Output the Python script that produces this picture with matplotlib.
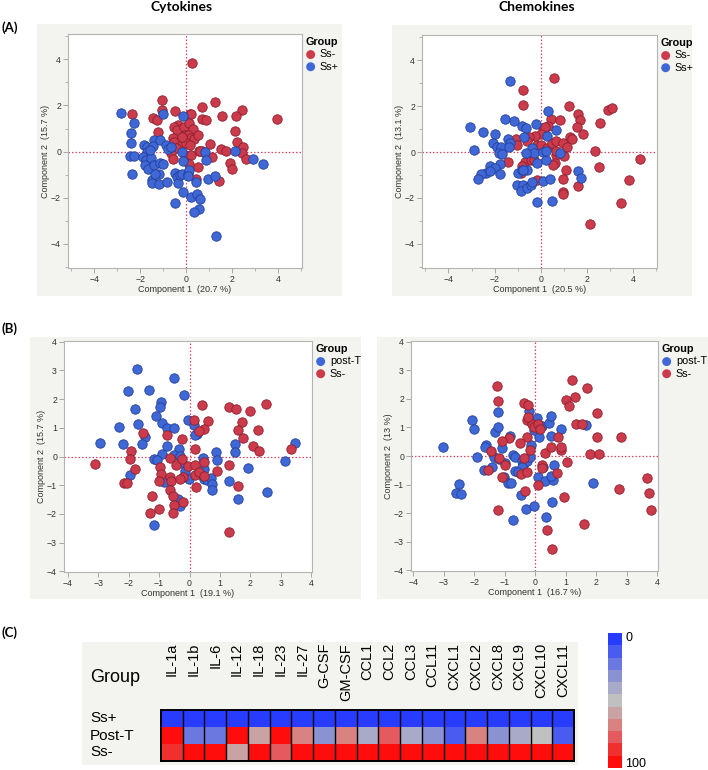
import numpy as np
import matplotlib
matplotlib.use("Agg")
import matplotlib.pyplot as plt
from matplotlib.patches import Rectangle
from matplotlib.colors import ListedColormap, Normalize
from matplotlib.ticker import MultipleLocator
from matplotlib.transforms import blended_transform_factory

plt.rcParams['font.family'] = ['Liberation Sans', 'DejaVu Sans']

# ---------------- DATA ----------------
# Panel A - Cytokines
cyto_ssneg_x = [0.26, -2.38, -1.06, -1.06, -1.43, -1.26, -1.23, -0.48, 0.16, 0.23, 0.70, 1.25, 1.55, 2.43, 2.17, 2.13, 3.96, 0.68, 0.88, -0.36, -0.51, -0.41, -0.10, 0.13, 0.32, -0.04, 0.10, 0.19, 0.35, 0.51, -0.59, -0.54, -0.17, 0.01, -0.43, -0.64, -0.59, -0.06, 0.22, 0.55, 0.68, 1.03, 1.12, 1.51, 1.75, 2.23, 2.49, 2.42, 2.62, 1.91, 2.00, 1.43, 0.45, 0.51, 0.13, 0.59, 0.16, -0.20]
cyto_ssneg_y = [3.85, 1.62, 2.23, 1.82, 1.46, 1.38, 0.84, 1.74, 1.61, 1.61, 1.92, 2.17, 1.56, 1.79, 1.55, 0.91, 1.40, 1.42, 1.35, 1.17, 1.06, 0.92, 1.06, 1.26, 0.99, 0.71, 0.70, 0.60, 0.55, 0.73, 0.60, 0.41, 0.31, 0.37, 0.14, -0.08, -0.31, -0.17, -0.17, 0.02, 0.01, 0.34, -0.24, 0.11, 0.02, 0.41, 0.22, -0.08, -0.31, -0.48, -0.74, -1.29, -1.17, -0.67, -0.53, 0.02, 0.27, 0.63]
cyto_sspos_x = [-2.86, -2.28, -2.39, -2.39, -2.45, -2.29, -2.38, -1.03, -0.14, -1.83, -1.71, -1.72, -1.90, -1.77, -1.78, -1.65, -1.55, -1.42, -1.45, -1.12, -0.86, -0.77, -1.39, -1.12, -1.01, -1.49, -1.49, -1.20, -1.19, -1.35, -0.83, -0.48, -0.42, -0.36, -0.28, -0.20, -0.49, -0.14, 0.10, 0.12, 0.10, 0.42, 0.22, 0.48, 0.61, 0.55, 0.36, 1.28, -0.17, -0.14, 0.80, 0.86, 0.94, 1.26, 2.12, 2.91, 3.33, -0.67, -1.58]
cyto_sspos_y = [1.69, 1.23, 0.79, 0.37, -0.21, -0.21, -0.97, 1.62, 1.53, 0.28, 0.19, -0.02, -0.24, -0.38, -0.60, -0.74, -0.30, 0.51, 0.24, 0.51, 0.30, 0.12, -0.60, -0.48, -0.55, -1.22, -1.35, -1.40, -0.96, -0.96, -1.30, -0.94, -1.10, -1.36, -1.00, -0.96, -2.23, -1.75, -0.96, -0.81, -1.07, -1.32, -1.99, -1.82, -2.05, -2.47, -2.63, -3.68, -0.02, -0.43, -0.02, -0.35, -1.17, -1.06, 0.02, -0.31, -0.53, 0.19, 0.09]

# Panel A - Chemokines
chemo_ssneg_x = [0.58, -0.76, -0.76, 1.22, 1.60, 1.72, 1.57, 2.59, 2.94, 3.11, 0.44, 0.83, 0.32, 0.12, 0.20, 0.03, -0.25, -0.52, -0.58, -1.06, -1.02, -0.17, 0.01, 0.26, 0.48, 0.68, 0.97, 1.28, 1.37, 1.83, 1.13, 1.02, 0.68, 0.64, 0.55, 1.11, 0.99, 0.99, 0.99, 1.63, -0.15, 2.37, 2.55, 4.33, 3.83, 3.49, 2.14, -1.41, -0.67, -0.44, -0.80, -0.87, -0.29, 0.65]
chemo_ssneg_y = [3.22, 2.71, 2.05, 1.99, 1.66, 1.39, 1.10, 1.27, 1.85, 1.94, 1.42, 1.39, 1.13, 1.04, 1.08, 0.79, 0.69, 0.65, 0.48, 0.59, 0.29, 0.29, 0.30, 0.19, 0.38, 0.48, 0.40, 0.66, 0.59, 0.77, 0.22, -0.17, -0.13, -0.46, -0.56, -0.79, -1.18, -1.73, -1.83, -1.47, -1.23, 0.04, -0.64, -0.29, -1.21, -2.22, -3.13, -0.42, -0.43, -0.36, -0.61, -0.90, -0.35, 0.04]
chemo_sspos_x = [-1.35, 0.32, -1.54, -1.16, -0.20, -0.81, -0.64, 0.67, -3.08, -2.52, -1.99, -2.07, -1.89, -1.73, -1.43, -1.31, -1.37, -2.88, -1.79, -1.66, 0.26, -0.73, -0.36, -0.29, -0.65, 0.12, -0.15, 0.23, 0.84, -1.75, -2.18, -1.96, -2.39, -2.18, -2.57, -2.73, -1.75, -0.99, -0.80, -0.58, -1.02, -0.76, -0.84, -0.58, -0.44, -0.36, 0.12, 0.39, -0.17, 0.51, 1.60, 1.77, -0.76, 0.22]
chemo_sspos_y = [3.10, 1.81, 1.46, 1.34, 1.24, 1.13, 1.03, 0.98, 1.08, 0.87, 0.77, 0.40, 0.22, 0.22, 0.55, 0.40, 0.20, 0.09, -0.03, -0.10, 0.72, 0.65, 0.19, -0.03, -0.06, 0.00, -0.49, -0.35, -0.06, -0.53, -0.61, -0.68, -0.90, -0.82, -0.94, -1.18, -0.94, -0.90, -0.79, -0.78, -1.44, -1.43, -1.69, -1.57, -1.43, -1.30, -1.26, -1.18, -2.17, -2.15, -0.82, -1.11, -0.78, 0.04]

# Panel B - Cytokines
cyto_postT_x = [-1.73, -0.52, -2.03, -1.32, -0.19, -0.94, -0.96, -1.78, -1.10, -0.89, -2.33, -1.68, -0.74, -0.52, -0.06, 0.14, 0.25, -2.96, -2.19, -1.46, -1.55, -0.75, -0.36, -0.92, -1.18, -1.07, -0.52, -0.32, -0.25, -0.14, -0.01, 0.44, 0.49, 0.47, 0.58, 0.72, 0.74, 0.74, 0.88, 0.91, 1.51, 1.49, 1.93, 1.31, 1.59, 2.55, 3.15, 3.48, -1.95, -0.83, -0.39, -0.32, -1.18, 0.17, 0.36]
cyto_postT_y = [3.03, 2.74, 2.27, 2.33, 2.14, 1.90, 1.73, 1.67, 1.40, 1.17, 1.03, 1.12, 1.00, 1.00, 1.26, 1.09, 0.77, 0.47, 0.45, 0.68, 0.42, 0.35, 0.25, 0.10, -0.09, -0.13, 0.04, 0.01, -0.22, -0.51, -0.77, -0.05, -0.42, -0.77, -0.81, -0.75, -0.97, -1.16, 0.16, -0.11, 0.45, 0.16, -0.39, -0.86, -1.48, -1.24, -0.16, 0.48, -0.66, -0.89, -1.47, -1.73, -2.39, 0.76, -0.60]
cyto_b_ssneg_x = [-3.12, -1.91, -1.95, -1.81, -2.17, -2.06, -1.53, -0.74, -0.25, 0.41, 0.14, 0.60, 0.49, 0.30, 0.19, -0.65, -0.98, -0.94, -0.99, -0.65, -0.61, -0.44, -0.25, -0.22, -0.30, -0.06, 0.17, 0.47, 0.19, 0.32, 0.49, 0.21, -0.63, -0.55, -0.50, -0.22, -0.54, -1.23, -1.01, -1.31, 0.91, 1.29, 1.59, 1.29, 1.53, 1.98, 2.52, 1.74, 1.59, 1.76, 2.26, 2.10, 2.28, 3.34, 1.29]
cyto_b_ssneg_y = [-0.25, 0.18, -0.08, -0.42, -0.93, -0.93, 0.82, 0.76, 0.61, 1.79, 1.26, 1.24, 0.95, 0.89, 0.27, -0.05, -0.37, -0.62, -0.84, -0.72, -0.86, -0.29, -0.10, -0.72, -0.80, -0.33, -0.29, -0.19, -0.64, -0.54, -0.68, -1.07, -1.18, -1.39, -1.70, -1.59, -1.98, -1.39, -1.84, -1.98, -0.52, -0.29, -1.01, 1.73, 1.67, 1.58, 1.84, 1.20, 0.92, 0.66, 0.92, 0.37, 0.18, 0.25, -2.64]

# Panel B - Chemokines
chemo_postT_x = [-3.02, -2.07, -2.01, -1.93, -2.52, -2.61, -2.43, -1.68, -1.61, -1.65, -1.43, -1.36, -1.32, -1.22, -1.22, -0.83, -1.08, -1.18, -1.01, -0.75, -0.67, -0.68, -1.03, -0.90, -0.81, -0.45, -0.37, -0.26, -0.17, -0.13, -0.43, -0.21, 0.04, -0.04, 0.12, 0.23, 0.45, 0.52, 0.52, 0.85, 1.67, 0.61, 0.26, 0.09, 0.31, 0.59, 0.50, -0.48, -0.30, -0.04, -0.72, 0.34, 0.56, 1.90, -0.57]
chemo_postT_y = [0.33, 1.26, 0.95, -0.05, -0.97, -1.30, -1.33, -0.48, 0.39, 0.31, -0.40, -0.05, 0.83, 1.03, 1.55, 0.70, 0.27, -0.11, -0.23, 0.04, -0.05, -0.51, -0.72, -0.95, -0.93, -0.19, -0.25, -0.16, -0.05, 0.39, -0.39, 1.58, 1.34, 0.91, 0.66, 1.05, 1.15, 1.40, 0.70, 0.95, 1.09, -0.31, -0.40, -0.72, -0.89, -0.83, -0.69, -1.38, -1.85, -1.76, -2.23, -2.14, -1.61, -0.93, -0.55]
chemo_b_ssneg_x = [-1.27, -1.22, 1.21, 1.70, 0.99, 1.29, 1.10, 2.03, 1.32, 1.54, 2.03, 2.80, 1.79, 2.09, -0.37, -0.24, -0.26, -0.12, -0.04, 0.07, 0.15, -0.28, -0.19, -0.50, -0.86, -1.11, -1.46, -1.19, -1.57, -1.00, -1.08, -0.39, -0.48, -0.28, -0.35, -1.22, 0.10, 0.20, 0.23, 0.31, 0.50, 0.74, 0.83, 0.85, 0.70, 1.02, 0.94, 1.60, 0.39, 0.54, 2.74, 3.67, 3.73, 3.78, -0.24]
chemo_b_ssneg_y = [2.46, 1.93, 2.64, 2.37, 1.96, 2.07, 1.76, 1.50, 1.11, 1.12, 0.66, 0.66, 0.06, 0.06, 1.87, 1.79, 1.26, 1.12, 1.03, 1.12, 0.94, 0.68, 0.22, 0.45, 0.62, 0.51, 0.19, -0.08, -0.48, -0.31, -0.72, -0.08, -0.63, -0.55, -1.22, -1.88, -1.03, -0.33, -0.42, 0.12, 0.31, 0.66, 0.22, 0.31, -0.58, -0.22, -1.45, -2.38, -2.60, -3.25, -1.16, -0.77, -1.30, -1.88, 1.36]

# Panel C - heatmap
heat_columns = ["IL-1a", "IL-1b", "IL-6", "IL-12", "IL-18", "IL-23", "IL-27", "G-CSF", "GM-CSF",
                "CCL1", "CCL2", "CCL3", "CCL11", "CXCL1", "CXCL2", "CXCL8", "CXCL9", "CXCL10", "CXCL11"]
heat_rows = ["Ss+", "Post-T", "Ss-"]
heat_sspos = [0] * 19
heat_postT = [100, 20, 25, 100, 60, 100, 70, 35, 65, 40, 75, 40, 30, 15, 65, 35, 40, 50, 15]
heat_ssneg = [90, 100, 100, 55, 100, 75, 100, 100, 100, 100, 100, 100, 100, 100, 100, 100, 100, 100, 100]
cbar_labels = ["0", "100"]

# ---------------- STYLE ----------------
W, H = 708, 770
RED = '#cc3b4c'
RED_E = '#8c1f2e'
BLUE = '#3f67d6'
BLUE_E = '#24409a'
BG = '#f3f3ef'

fig = plt.figure(figsize=(W / 100, H / 100), dpi=100)


def box(l, t, r, b):
    return [l / W, 1 - b / H, (r - l) / W, (b - t) / H]


def bgrect(l, t, r, b):
    fig.patches.append(Rectangle((l / W, 1 - b / H), (r - l) / W, (b - t) / H,
                                 transform=fig.transFigure, facecolor=BG,
                                 edgecolor='none', zorder=-5))


def scatter_panel(pos, groups, xlab, ylab, xlim, ylim, major, minor):
    ax = fig.add_axes(pos)
    for (gx, gy, fc, ec, lab) in groups:
        ax.scatter(gx, gy, s=46, facecolor=fc, edgecolor=ec, linewidth=0.6,
                   label=lab, zorder=3)
    ax.axhline(0, color='#e0465e', ls=(0, (1.2, 1.6)), lw=0.9, zorder=2)
    ax.axvline(0, color='#e0465e', ls=(0, (1.2, 1.6)), lw=0.9, zorder=2)
    ax.set_xlim(*xlim)
    ax.set_ylim(*ylim)
    ax.xaxis.set_major_locator(MultipleLocator(major))
    ax.yaxis.set_major_locator(MultipleLocator(major))
    if minor:
        ax.xaxis.set_minor_locator(MultipleLocator(minor))
        ax.yaxis.set_minor_locator(MultipleLocator(minor))
    for sp in ax.spines.values():
        sp.set_color('#b4b4b4')
        sp.set_linewidth(0.8)
    ax.tick_params(which='major', length=3.5, width=0.6, color='#9a9a9a',
                   labelsize=6.3, labelcolor='#333333', pad=1.5)
    ax.tick_params(which='minor', length=2, width=0.5, color='#9a9a9a')
    ax.set_xlabel(xlab, fontsize=6.5, color='#333333', labelpad=1)
    ax.set_ylabel(ylab, fontsize=6.5, color='#333333', labelpad=1)
    leg = ax.legend(loc='upper left', bbox_to_anchor=(1.0, 1.0), frameon=False,
                    title='Group', fontsize=7.8, borderaxespad=0.2,
                    handletextpad=0.35, labelspacing=0.2, borderpad=0.1,
                    alignment='left', markerscale=0.95, handlelength=1.0,
                    title_fontproperties={'weight': 'bold', 'size': 7.8})
    for h in leg.legend_handles:
        h.set_edgecolor('none')
    return ax


# gray backgrounds
bgrect(37, 24, 342, 296)
bgrect(392, 25, 692, 296)
bgrect(30, 337, 361, 599)
bgrect(377, 337, 708, 599)
bgrect(82, 642, 578, 765)

# Panel A
scatter_panel(box(68, 34, 302, 268),
              [(cyto_ssneg_x, cyto_ssneg_y, RED, RED_E, 'Ss-'),
               (cyto_sspos_x, cyto_sspos_y, BLUE, BLUE_E, 'Ss+')],
              'Component 1  (20.7 %)', 'Component 2  (15.7 %)',
              (-5.15, 5.05), (-5.05, 5.1), 2, 1)
scatter_panel(box(422, 35, 657, 268),
              [(chemo_ssneg_x, chemo_ssneg_y, RED, RED_E, 'Ss-'),
               (chemo_sspos_x, chemo_sspos_y, BLUE, BLUE_E, 'Ss+')],
              'Component 1  (20.5 %)', 'Component 2  (13.1 %)',
              (-5.15, 5.05), (-5.05, 5.1), 2, 1)

# Panel B
scatter_panel(box(64, 341, 312, 572),
              [(cyto_postT_x, cyto_postT_y, BLUE, BLUE_E, 'post-T'),
               (cyto_b_ssneg_x, cyto_b_ssneg_y, RED, RED_E, 'Ss-')],
              'Component 1  (19.1 %)', 'Component 2  (15.7 %)',
              (-4.13, 4.03), (-4.02, 4.02), 1, None)
scatter_panel(box(411, 341, 658, 571),
              [(chemo_postT_x, chemo_postT_y, BLUE, BLUE_E, 'post-T'),
               (chemo_b_ssneg_x, chemo_b_ssneg_y, RED, RED_E, 'Ss-')],
              'Component 1  (16.7 %)', 'Component 2  (13 %)',
              (-4.08, 4.02), (-4.02, 4.02), 1, None)

# headings
head = dict(family=['Lato', 'DejaVu Sans'], weight='bold', color='black')
fig.text(182 / W, 1 - 7 / H, 'Cytokines', ha='center', va='center', fontsize=10, **head)
fig.text(537 / W, 1 - 7 / H, 'Chemokines', ha='center', va='center', fontsize=10, **head)
fig.text(1 / W, 1 - 28 / H, '(A)', ha='left', va='center', fontsize=9.5, **head)
fig.text(1 / W, 1 - 329 / H, '(B)', ha='left', va='center', fontsize=9.5, **head)
fig.text(1 / W, 1 - 633 / H, '(C)', ha='left', va='center', fontsize=9.5, **head)

# Panel C heatmap
cmap_colors = ['#283cff', '#4a5cf0', '#6a78e0', '#8a92d2', '#a8aac8', '#c0c0c0',
               '#c9a3a3', '#d88282', '#e45a5e', '#f0302f', '#ff0c0c']
cmap = ListedColormap(cmap_colors)
norm = Normalize(0, 100)
M = np.array([heat_sspos, heat_postT, heat_ssneg], dtype=float)
axh = fig.add_axes(box(161, 710, 574, 761))
axh.imshow(M, cmap=cmap, norm=norm, aspect='auto', interpolation='nearest')
ncol = len(heat_columns)
axh.vlines(np.arange(ncol - 1) + 0.5, -0.5, 2.5, color='black', lw=1.0)
axh.set_xticks([])
axh.set_yticks([])
for sp in axh.spines.values():
    sp.set_color('black')
    sp.set_linewidth(1.4)
tr = blended_transform_factory(axh.transData, fig.transFigure)
for i, c in enumerate(heat_columns):
    axh.text(i, 1 - 643 / H, c, transform=tr, rotation=90, ha='center', va='top',
             fontsize=10.5, color='black')
fig.text(90 / W, 1 - 677 / H, 'Group', ha='left', va='center', fontsize=13)
for j, r in enumerate(heat_rows):
    fig.text(90 / W, 1 - (718.5 + 17 * j) / H, r, ha='left', va='center', fontsize=11)

# colorbar
axc = fig.add_axes(box(608, 633, 622, 768))
axc.imshow(np.linspace(0, 100, len(cmap_colors)).reshape(-1, 1), cmap=cmap, norm=norm,
           aspect='auto', interpolation='nearest')
axc.set_axis_off()
fig.text(625 / W, 1 - 638 / H, cbar_labels[0], ha='left', va='center', fontsize=9)
fig.text(625 / W, 1 - 764 / H, cbar_labels[1], ha='left', va='center', fontsize=9)

fig.savefig('out.png', dpi=100)
